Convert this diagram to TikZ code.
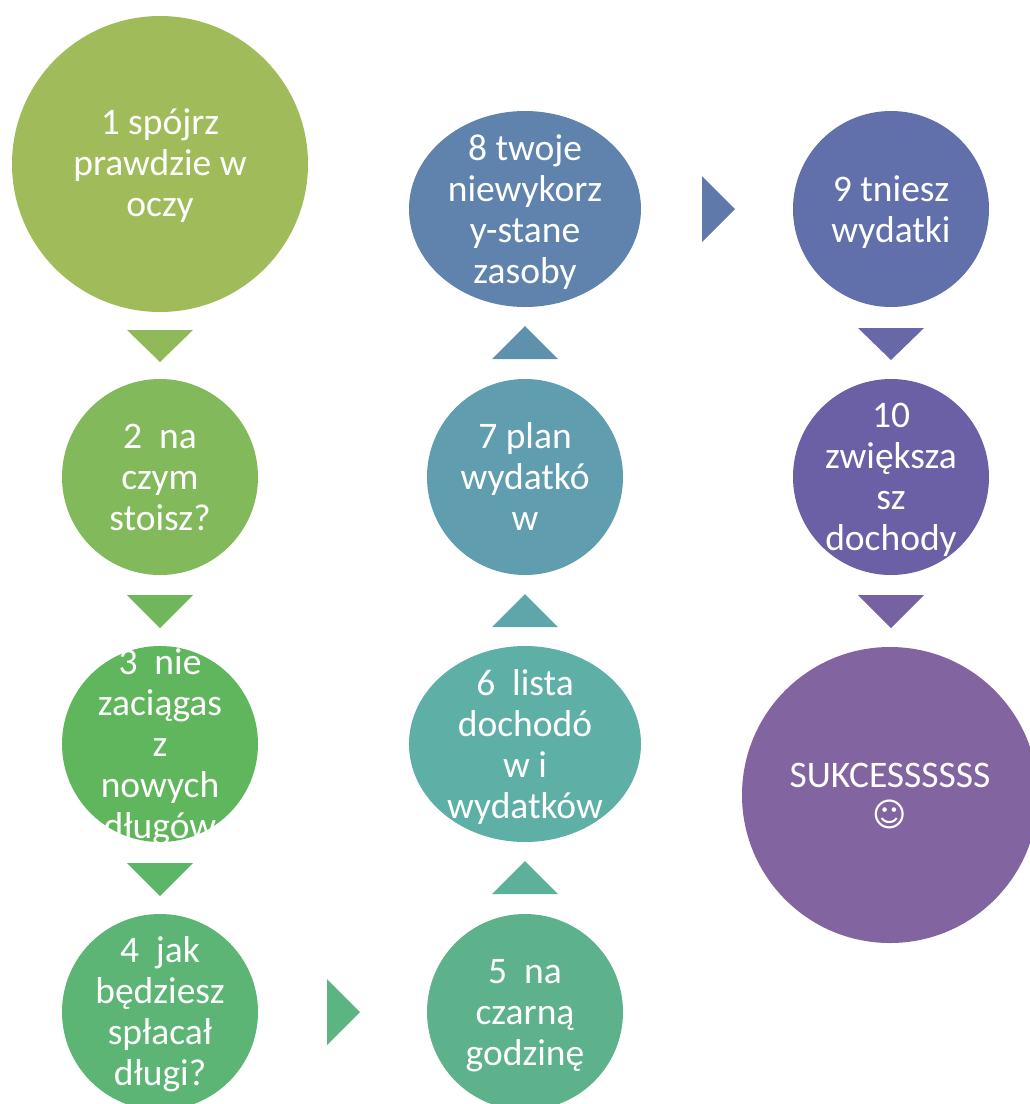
\documentclass[tikz,border=0pt]{standalone}
\usepackage{fontspec}
\setmainfont{Carlito}
\newfontfamily\smileyfont{DejaVu Sans}
\usetikzlibrary{shapes.geometric}
\tikzset{
  x=1pt,y=-1pt,
  blob/.style={ellipse,inner sep=0pt,outer sep=0pt,draw=none,fill=#1},
  small/.style={minimum width=196pt,minimum height=196pt},
  wide/.style={minimum width=232pt,minimum height=196pt},
  big/.style={minimum width=296pt,minimum height=296pt},
  caption/.style={text=white,align=center,inner sep=0pt,yshift=-2pt,font=\fontsize{37.5}{41}\selectfont},
}
\definecolor{c1}{HTML}{A0BC5A}
\definecolor{c2}{HTML}{81B95B}
\definecolor{c3}{HTML}{60B65C}
\definecolor{c4}{HTML}{5CB574}
\definecolor{c5}{HTML}{5DB28C}
\definecolor{c6}{HTML}{5EAFA6}
\definecolor{c7}{HTML}{5F9DAF}
\definecolor{c8}{HTML}{5F83AC}
\definecolor{c9}{HTML}{6170AA}
\definecolor{c10}{HTML}{6B60A5}
\definecolor{c11}{HTML}{8264A0}
\definecolor{a1}{HTML}{90BA5A}
\definecolor{a2}{HTML}{70B75B}
\definecolor{a3}{HTML}{5DB668}
\definecolor{a4}{HTML}{5CB480}
\definecolor{a5}{HTML}{5DB099}
\definecolor{a6}{HTML}{5FA6AB}
\definecolor{a7}{HTML}{5F90AD}
\definecolor{a8}{HTML}{6079AB}
\definecolor{a9}{HTML}{6668A7}
\definecolor{a10}{HTML}{7662A2}
\begin{document}
\begin{tikzpicture}
\useasboundingbox (0,0) rectangle (1030,1104);
% circles
\node[blob=c1,big]    (n1)  at (160,164) {};
\node[blob=c2,small]  (n2)  at (160,477) {};
\node[blob=c3,small]  (n3)  at (160,744) {};
\node[blob=c4,small]  (n4)  at (160,1012) {};
\node[blob=c5,small]  (n5)  at (525,1012) {};
\node[blob=c6,wide]   (n6)  at (525,744) {};
\node[blob=c7,small]  (n7)  at (525,477) {};
\node[blob=c8,wide]   (n8)  at (525,209) {};
\node[blob=c9,small]  (n9)  at (891,209) {};
\node[blob=c10,small] (n10) at (891,477) {};
\node[blob=c11,big]   (n11) at (890,795) {};
% texts
\node[caption] (t1)  at (n1.center)  {1 spójrz\\prawdzie w\\oczy};
\node[caption,yshift=2pt] (t2)  at (n2.center)  {2\ \ na\\czym\\stoisz?};
\node[caption,yshift=-1pt] (t3)  at (n3.center)  {3\ \ nie\\zaciągas\\z\\nowych\\długów};
\node[caption] (t4)  at (n4.center)  {4\ \ jak\\będziesz\\spłacał\\długi?};
\node[caption,yshift=-2pt] (t5)  at (n5.center)  {5\ \ na\\czarną\\godzinę};
\node[caption,yshift=-1pt] (t6)  at (n6.center)  {6\ \ lista\\dochodó\\w i\\wydatków};
\node[caption,yshift=3pt] (t7)  at (n7.center)  {7 plan\\wydatkó\\w};
\node[caption,yshift=-1pt] (t8)  at (n8.center)  {8 twoje\\niewykorz\\y-stane\\zasoby};
\node[caption,yshift=-1pt] (t9)  at (n9.center)  {9 tniesz\\wydatki};
\node[caption,yshift=-1pt] (t10) at (n10.center) {10\\zwiększa\\sz\\dochody};
\node[caption,yshift=1pt] (t11) at (n11.center) {SUKCESSSSSS\\\raisebox{2pt}{\smileyfont\fontsize{33}{41}\selectfont ☺}};
% arrow triangles
\fill[a1] (127,330) -- (193,330) -- (160,362) -- cycle;
\fill[a2] (127,595) -- (193,595) -- (160,628) -- cycle;
\fill[a3] (127,863) -- (193,863) -- (160,896) -- cycle;
\fill[a4] (327,979) -- (327,1045) -- (360,1012) -- cycle;
\fill[a5] (492,894) -- (558,894) -- (525,861) -- cycle;
\fill[a6] (492,627) -- (558,627) -- (525,594) -- cycle;
\fill[a7] (492,359) -- (558,359) -- (525,326) -- cycle;
\fill[a8] (702,176) -- (702,242) -- (735,209) -- cycle;
\fill[a9] (858,328) -- (924,328) -- (891,360) -- cycle;
\fill[a10] (858,595) -- (924,595) -- (891,628) -- cycle;
\end{tikzpicture}
\end{document}
